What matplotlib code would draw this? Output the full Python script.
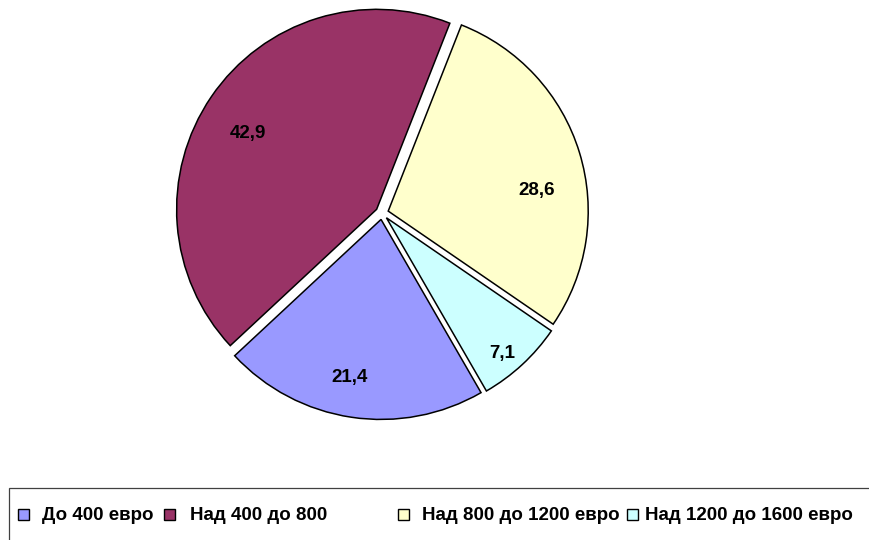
import numpy as np
import matplotlib
matplotlib.use('Agg')
import matplotlib.pyplot as plt
from matplotlib.patches import Rectangle

plt.rcParams['font.family'] = ['Liberation Sans', 'DejaVu Sans']

categories = ['До 400 евро', 'Над 400 до 800', 'Над 800 до 1200 евро', 'Над 1200 до 1600 евро']
shares = [21.4, 42.9, 28.6, 7.1]
colors = ['#9999FF', '#993366', '#FFFFCC', '#CCFFFF']

# label placement: distance from slice centre (fraction of radius)
# and a small turn (degrees) away from the slice's mid angle
label_dist = [0.808, 0.748, 0.751, 0.889]
label_turn = [-2.6, 3.6, -9.3, -2.3]
# legend layout: x of each marker square and its text (pixels)
legend_x = [18, 164, 398, 627]
legend_text_x = [42, 190, 422, 645]

W, H = 869, 540
fig = plt.figure(figsize=(W / 100, H / 100), dpi=100)
ax = fig.add_axes([0, 0, 1, 1])

cx, cy, r = 382, H - 213, 200
# explode is in data units here (pixels), not a fraction of r
wedges, _ = ax.pie(shares, colors=colors, startangle=-60, counterclock=False,
                   explode=[6.5] * len(shares), center=(cx, cy), radius=r,
                   wedgeprops=dict(edgecolor='black', linewidth=1.1))

for w, v, f, turn in zip(wedges, shares, label_dist, label_turn):
    mid = np.deg2rad((w.theta1 + w.theta2) / 2 + turn)
    wx, wy = w.center
    ax.text(wx + f * r * np.cos(mid), wy + f * r * np.sin(mid),
            f'{v:.1f}'.replace('.', ','), ha='center', va='center',
            fontsize=13.5, fontweight='bold', color='black')

ax.set_xlim(0, W)
ax.set_ylim(0, H)
ax.set_aspect('equal')
ax.axis('off')

# legend box
ax.add_patch(Rectangle((9, -5), W, H - 488 + 5, fill=False,
                       edgecolor='#404040', linewidth=0.9, clip_on=False))
for name, c, sx, tx in zip(categories, colors, legend_x, legend_text_x):
    ax.add_patch(Rectangle((sx, H - 520), 11, 11, facecolor=c,
                           edgecolor='black', linewidth=1.0))
    ax.text(tx, H - 516, name, ha='left', va='center', fontsize=13.5,
            fontweight='bold', color='black')

fig.savefig('out.png', dpi=100)
